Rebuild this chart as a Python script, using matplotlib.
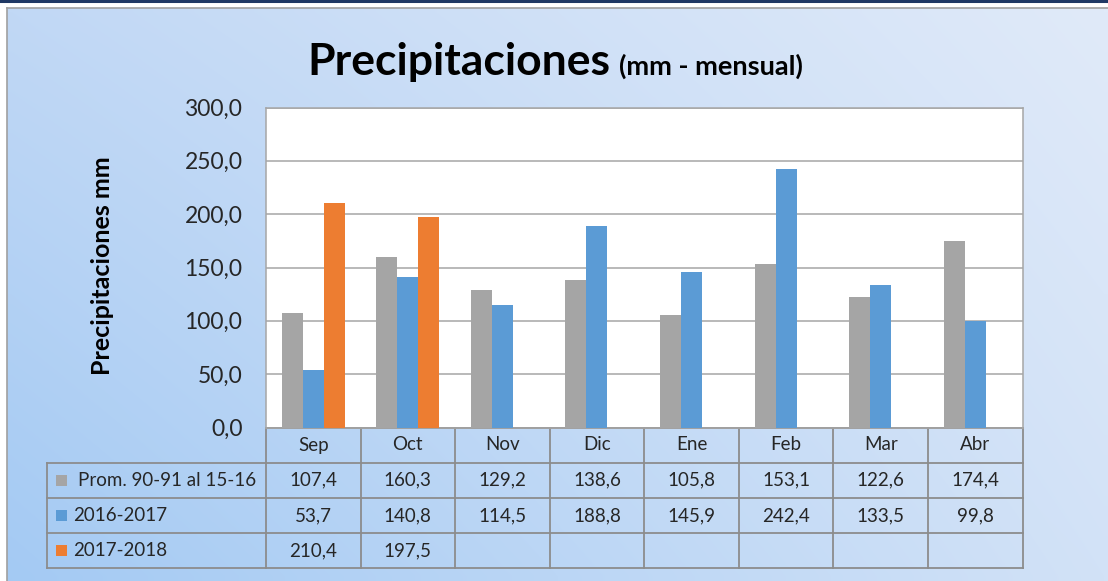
import numpy as np
import matplotlib
matplotlib.use("Agg")
import matplotlib.pyplot as plt
from matplotlib.lines import Line2D
from matplotlib.patches import Rectangle

# ---------------- data ----------------
months = ["Sep", "Oct", "Nov", "Dic", "Ene", "Feb", "Mar", "Abr"]
series_names = ["Prom. 90-91 al 15-16", "2016-2017", "2017-2018"]
prom = [107.4, 160.3, 129.2, 138.6, 105.8, 153.1, 122.6, 174.4]
s1617 = [53.7, 140.8, 114.5, 188.8, 145.9, 242.4, 133.5, 99.8]
s1718 = [210.4, 197.5, np.nan, np.nan, np.nan, np.nan, np.nan, np.nan]
yticks = [0, 50, 100, 150, 200, 250, 300]
colors = ["#a5a5a5", "#5b9bd5", "#ed7d31"]

FONT = "Lato"
plt.rcParams["font.family"] = [FONT, "DejaVu Sans"]

W, H = 1108, 581
fig = plt.figure(figsize=(W / 100, H / 100), dpi=100)
fig.patch.set_facecolor("white")

def fx(px):
    return px / W

def fy(py):
    return 1 - py / H

# ---------------- background (gradient chart area) ----------------
bg = fig.add_axes([fx(6.5), 0, 1 - fx(6.5), fy(7.5)])
bg.set_axis_off()
gh, gw = 60, 120
tl = np.array([193, 216, 245]) / 255
tr = np.array([224, 234, 249]) / 255
bl = np.array([164, 202, 243]) / 255
br = np.array([210, 226, 247]) / 255
u = np.linspace(0, 1, gw)[None, :, None]
v = np.linspace(0, 1, gh)[:, None, None]
grad = (1 - v) * ((1 - u) * tl + u * tr) + v * ((1 - u) * bl + u * br)
bg.imshow(grad, aspect="auto", extent=[0, 1, 0, 1], interpolation="bilinear")
bg.set_xlim(0, 1)
bg.set_ylim(0, 1)
fig.add_artist(Line2D([fx(6.5), fx(6.5)], [0, fy(7.5)], color="#a0a0a0", lw=1.2))
fig.add_artist(Line2D([fx(6.5), 1], [fy(7.5), fy(7.5)], color="#a0a0a0", lw=1.2))
fig.add_artist(Line2D([0, 1], [fy(1), fy(1)], color="#1f3864", lw=2.2))

# ---------------- main axes ----------------
L, R, T, B = 266, 1022.5, 107.5, 427.5
ax = fig.add_axes([fx(L), fy(B), fx(R) - fx(L), fy(T) - fy(B)])
ax.set_facecolor("white")
n = len(months)
x = np.arange(n)
bw = 1 / 4.5
for k, (vals, c) in enumerate(zip([prom, s1617, s1718], colors)):
    ax.bar(x + (k - 1) * bw, vals, width=bw, color=c, zorder=3, linewidth=0)
ax.set_xlim(-0.5, n - 0.5)
ax.set_ylim(0, 300)
ax.set_yticks(yticks)
ax.set_yticklabels([f"{t:.1f}".replace(".", ",") for t in yticks],
                   fontsize=16.5, color="#262626")
ax.tick_params(axis="y", length=0, pad=17)
ax.set_xticks([])
ax.grid(axis="y", color="#a6a6a6", lw=1.1, zorder=0)
for s in ax.spines.values():
    s.set_color("#a6a6a6")
    s.set_linewidth(1.1)

# ---------------- data table ----------------
AW, AH = R - L, B - T

def axx(px):
    return (px - L) / AW

def axy(py):
    return (B - py) / AH

tab_left = 47
row_edges = [427.5, 462.5, 498, 533, 568]
lc = "#8c8c8c"
lw = 1.3
tkw = dict(transform=ax.transAxes, clip_on=False, color=lc, lw=lw)
ax.add_line(Line2D([axx(L), axx(R)], [axy(row_edges[0])] * 2, **tkw))
for ry in row_edges[1:]:
    ax.add_line(Line2D([axx(tab_left), axx(R)], [axy(ry)] * 2, **tkw))
for i in range(n + 1):
    ax.add_line(Line2D([i / n, i / n], [axy(row_edges[0]), axy(row_edges[-1])], **tkw))
ax.add_line(Line2D([axx(tab_left)] * 2, [axy(row_edges[1]), axy(row_edges[-1])], **tkw))

fs_tab = 13.5
for i, m in enumerate(months):
    ax.text((i + 0.5) / n, axy((row_edges[0] + row_edges[1]) / 2), m,
            transform=ax.transAxes, ha="center", va="center",
            fontsize=fs_tab, color="#262626")
text_x = [78, 73, 73]
for r, (name, vals, c) in enumerate(zip(series_names, [prom, s1617, s1718], colors)):
    yc = (row_edges[r + 1] + row_edges[r + 2]) / 2
    sq = 11
    ax.add_patch(Rectangle((axx(56), axy(yc + sq / 2)), sq / AW, sq / AH,
                           transform=ax.transAxes, clip_on=False, color=c, lw=0))
    ax.text(axx(text_x[r]), axy(yc), name, transform=ax.transAxes,
            ha="left", va="center", fontsize=fs_tab, color="#262626")
    for i, v_ in enumerate(vals):
        if np.isnan(v_):
            continue
        ax.text((i + 0.5) / n, axy(yc), f"{v_:.1f}".replace(".", ","),
                transform=ax.transAxes, ha="center", va="center",
                fontsize=fs_tab, color="#262626")

# ---------------- titles ----------------
t1 = fig.text(fx(307), fy(75), "Precipitaciones", ha="left", va="baseline",
              fontsize=32, fontweight="bold", color="black")
t2 = fig.text(fx(620), fy(75), "(mm - mensual)", ha="left", va="baseline",
              fontsize=19.5, fontweight="bold", color="black")
fig.canvas.draw()
ext = t1.get_window_extent()
t2.set_x((ext.x1 + 9) / W)
fig.text(fx(102), fy(266), "Precipitaciones mm", rotation=90, ha="center",
         va="center", fontsize=18, fontweight="bold", color="black")

fig.savefig("out.png", dpi=100, facecolor=fig.get_facecolor())
